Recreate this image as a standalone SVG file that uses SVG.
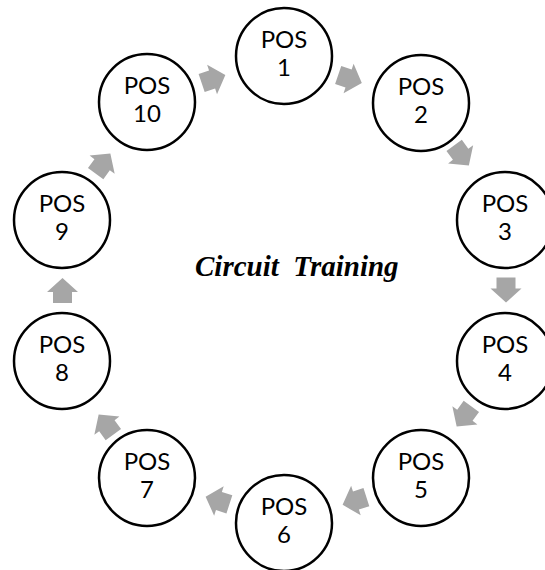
<svg xmlns="http://www.w3.org/2000/svg" width="545" height="570" viewBox="0 0 545 570">
  <style>
    .station circle { fill: #ffffff; stroke: #000000; stroke-width: 2.5; }
    .station text { font-family: Lato, "Liberation Sans", sans-serif; font-size: 24px; fill: #000000; text-anchor: middle; }
    .title { font-family: "Liberation Serif", "Times New Roman", serif; font-size: 29px; font-weight: bold; font-style: italic; fill: #000000; }
    .flow { fill: #a6a6a6; }
  </style>
  <defs>
    <!-- short block arrow pointing along +x, centred on the origin -->
    <path id="blockArrow" class="flow" d="M-12.5,-9.5 L-1.5,-9.5 L-1.5,-15.5 L12.5,0 L-1.5,15.5 L-1.5,9.5 L-12.5,9.5 Z"/>
  </defs>
  <rect width="545" height="570" fill="#ffffff"/>

  <!-- arrows between stations -->
  <g id="connectors">
    <use href="#blockArrow" transform="translate(213.5,79) rotate(-18.6)"/>
    <use href="#blockArrow" transform="translate(350,79) rotate(18.9)"/>
    <use href="#blockArrow" transform="translate(461.5,155.5) rotate(54)"/>
    <use href="#blockArrow" transform="translate(506,290) rotate(90)"/>
    <use href="#blockArrow" transform="translate(464,416.5) rotate(126)"/>
    <use href="#blockArrow" transform="translate(354.5,501) rotate(162)"/>
    <use href="#blockArrow" transform="translate(217.5,500.5) rotate(198)"/>
    <use href="#blockArrow" transform="translate(106,424.5) rotate(234)"/>
    <use href="#blockArrow" transform="translate(62.5,290.5) rotate(270)"/>
    <use href="#blockArrow" transform="translate(103,163.5) rotate(306)"/>
  </g>

  <g id="pos1" class="station"><circle cx="284" cy="56" r="48"/><text x="284" y="48">POS</text><text x="284" y="76">1</text></g>
  <g id="pos2" class="station"><circle cx="421" cy="103" r="48"/><text x="421" y="95">POS</text><text x="421" y="123">2</text></g>
  <g id="pos3" class="station"><circle cx="505" cy="220" r="48"/><text x="505" y="212">POS</text><text x="505" y="240">3</text></g>
  <g id="pos4" class="station"><circle cx="505" cy="361" r="48"/><text x="505" y="353">POS</text><text x="505" y="381">4</text></g>
  <g id="pos5" class="station"><circle cx="421" cy="478" r="48"/><text x="421" y="470">POS</text><text x="421" y="498">5</text></g>
  <g id="pos6" class="station"><circle cx="284" cy="523" r="48"/><text x="284" y="515">POS</text><text x="284" y="543">6</text></g>
  <g id="pos7" class="station"><circle cx="147" cy="478" r="48"/><text x="147" y="470">POS</text><text x="147" y="498">7</text></g>
  <g id="pos8" class="station"><circle cx="62" cy="361" r="48"/><text x="62" y="353">POS</text><text x="62" y="381">8</text></g>
  <g id="pos9" class="station"><circle cx="62" cy="220" r="48"/><text x="62" y="212">POS</text><text x="62" y="240">9</text></g>
  <g id="pos10" class="station"><circle cx="147" cy="102" r="48"/><text x="147" y="94">POS</text><text x="147" y="122">10</text></g>

  <text class="title" x="195" y="276" xml:space="preserve">Circuit  Training</text>
</svg>
